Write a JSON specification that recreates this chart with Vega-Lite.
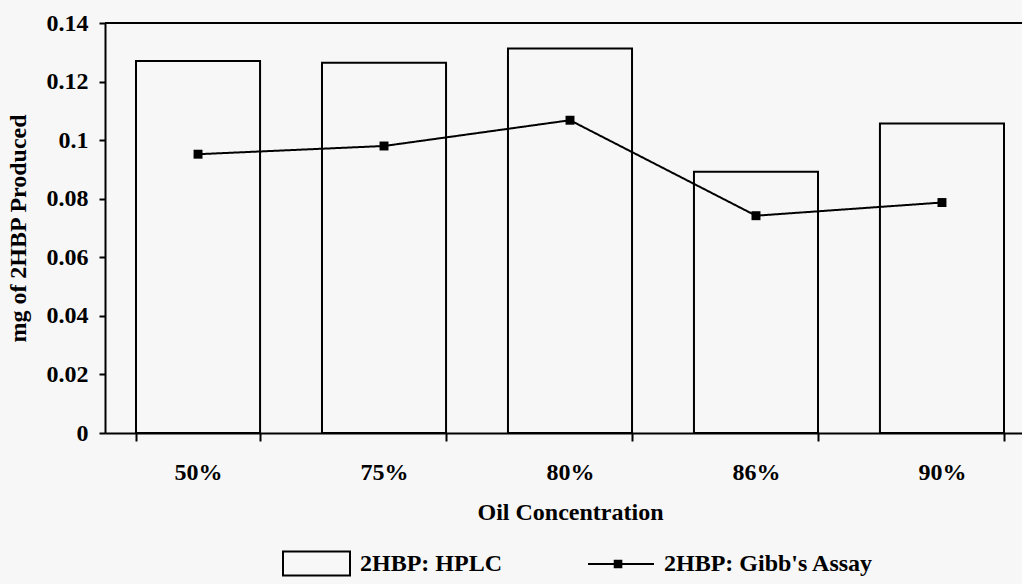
{
  "$schema": "https://vega.github.io/schema/vega-lite/v6.json",
  "width": 917,
  "height": 410,
  "autosize": {"type": "none"},
  "padding": {"left": 105, "top": 23, "right": 0, "bottom": 151},
  "background": "#f7f7f7",
  "config": {
    "view": {"stroke": null},
    "font": "Liberation Serif",
    "axis": {
      "domainColor": "black", "domainWidth": 2, "tickColor": "black", "tickWidth": 2,
      "labelFont": "Liberation Serif", "labelFontWeight": "bold", "labelColor": "black", "labelFontSize": 24,
      "titleFont": "Liberation Serif", "titleFontWeight": "bold", "titleColor": "black", "titleFontSize": 24,
      "grid": false
    },
    "legend": {
      "labelFont": "Liberation Serif", "labelFontSize": 24, "labelFontWeight": "bold", "labelColor": "black",
      "labelOffset": 9, "labelLimit": 400, "symbolStrokeWidth": 2, "symbolStrokeColor": "black", "symbolOpacity": 1
    }
  },
  "data": {
    "values": [
      {"conc": "50%", "hplc": 0.1270, "gibbs": 0.0952},
      {"conc": "75%", "hplc": 0.1264, "gibbs": 0.0980},
      {"conc": "80%", "hplc": 0.1313, "gibbs": 0.1068},
      {"conc": "86%", "hplc": 0.0892, "gibbs": 0.0742},
      {"conc": "90%", "hplc": 0.1057, "gibbs": 0.0787}
    ]
  },
  "layer": [
    {
      "mark": {"type": "bar", "fill": "transparent", "strokeWidth": 2},
      "encoding": {
        "x": {
          "field": "conc", "type": "nominal", "sort": null,
          "scale": {"range": [0, 930], "paddingInner": 0.333, "paddingOuter": 0.1667},
          "axis": {"title": "Oil Concentration", "labelAngle": 0, "tickBand": "extent", "tickSize": 8, "labelPadding": 19, "titlePadding": 16}
        },
        "y": {
          "field": "hplc", "type": "quantitative",
          "scale": {"domain": [0, 0.14], "nice": false},
          "axis": {"title": "mg of 2HBP Produced", "values": [0, 0.02, 0.04, 0.06, 0.08, 0.1, 0.12, 0.14], "format": "~g", "tickSize": 6, "labelPadding": 11, "titlePadding": 16}
        },
        "stroke": {
          "datum": "2HBP: HPLC", "type": "nominal",
          "scale": {"range": ["black"]},
          "legend": {
            "orient": "none", "legendX": 177, "legendY": 506, "title": null,
            "symbolType": "M-1,-0.36H1V0.36H-1Z", "symbolSize": 4489,
            "symbolFillColor": "transparent"
          }
        }
      }
    },
    {
      "mark": {"type": "line", "color": "black", "strokeWidth": 2},
      "encoding": {
        "x": {"field": "conc", "type": "nominal", "sort": null},
        "y": {"field": "gibbs", "type": "quantitative"},
        "strokeDash": {
          "datum": "2HBP: Gibb's Assay", "type": "nominal",
          "scale": {"range": [[1, 0]]},
          "legend": {
            "orient": "none", "legendX": 482, "legendY": 507, "title": null,
            "symbolType": "M-1,0H1M-0.19,-0.1H0.01V0.1H-0.19Z", "symbolSize": 4356,
            "symbolFillColor": "black", "symbolStrokeColor": "black", "symbolStrokeWidth": 2
          }
        }
      }
    },
    {
      "mark": {"type": "point", "shape": "square", "size": 80, "filled": true, "color": "black", "opacity": 1},
      "encoding": {
        "x": {"field": "conc", "type": "nominal", "sort": null},
        "y": {"field": "gibbs", "type": "quantitative"}
      }
    },
    {
      "mark": {"type": "rule", "color": "black", "strokeWidth": 2},
      "encoding": {"y": {"datum": 0.14, "type": "quantitative"}}
    }
  ]
}
